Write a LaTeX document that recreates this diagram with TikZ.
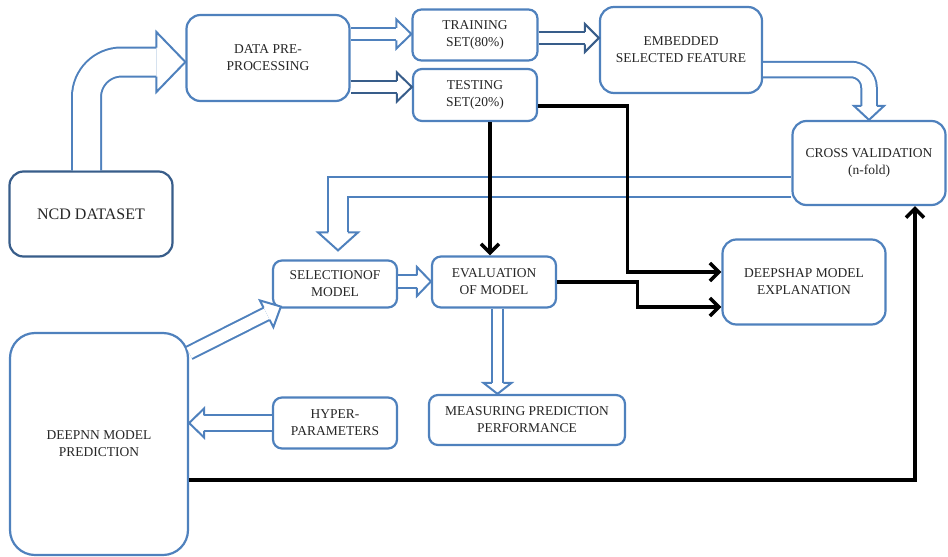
\documentclass[tikz,border=0pt]{standalone}
\usepackage{fontspec}
\setmainfont{Liberation Serif}
\usepackage{tikz}
\usetikzlibrary{arrows.meta}
\usetikzlibrary{calc}
\definecolor{boxblue}{RGB}{79,129,189}
\definecolor{navyblue}{RGB}{56,93,138}

% open head of a hollow arrow: #2 point behind, #3 tip, #4 shaft gap, #5 length, #6 half width
\newcommand{\hollowhead}[6][boxblue]{%
  \coordinate (hb) at ($(#3)!#5!(#2)$);
  \draw[#1, line width=2pt, fill=white]
    ($(hb)!#4/2+1pt!90:(#3)$) -- ($(hb)!#6!90:(#3)$) -- (#3)
    -- ($(hb)!#6!-90:(#3)$) -- ($(hb)!#4/2+1pt!-90:(#3)$);
}
% straight hollow arrow from #2 to #3
\newcommand{\blockarrow}[6][boxblue]{%
  \hollowhead[#1]{#2}{#3}{#4}{#5}{#6}
  \draw[#1, line width=2pt, double=white, double distance=#4] (#2) -- (hb);
}

\begin{document}
\begin{tikzpicture}[x=1pt, y=-1pt,
    box/.style={draw=boxblue, line width=2.2pt, fill=white, rounded corners=9pt,
      align=center, inner sep=0pt, text=black!85,
      font=\fontsize{13.5}{17}\selectfont},
    hollow/.style={boxblue, line width=2pt, double=white},
    flow/.style={line width=3.5pt, -{Straight Barb[length=9pt,width=18pt]}}]
  \useasboundingbox (0,0) rectangle (948,557);

  \node[box, draw=navyblue, rounded corners=14pt, minimum width=163pt, minimum height=85pt,
    font=\fontsize{16}{19}\selectfont] (A) at (91,214) {NCD DATASET};
  \node[box, rounded corners=14pt, minimum width=163pt, minimum height=86pt] (B) at (268,58) {DATA PRE-\\PROCESSING};
  \node[box, minimum width=125pt, minimum height=51pt] (C1) at (475,35) {TRAINING\\SET(80\%)};
  \node[box, minimum width=124pt, minimum height=52pt] (C2) at (475,95) {TESTING\\SET(20\%)};
  \node[box, rounded corners=14pt, minimum width=162pt, minimum height=86pt] (D) at (681,50) {EMBEDDED\\SELECTED FEATURE};
  \node[box, rounded corners=14pt, minimum width=153pt, minimum height=84pt] (E) at (869,163) {CROSS VALIDATION\\(n-fold)};
  \node[box, minimum width=124pt, minimum height=47pt] (F) at (335,284) {SELECTIONOF\\MODEL};
  \node[box, minimum width=124pt, minimum height=51pt] (G) at (494,282) {EVALUATION\\OF MODEL};
  \node[box, rounded corners=14pt, minimum width=163pt, minimum height=85pt] (H) at (804,282) {DEEPSHAP MODEL\\EXPLANATION};
  \node[box, minimum width=196pt, minimum height=50pt] (I) at (527,420) {MEASURING PREDICTION\\PERFORMANCE};
  \node[box, minimum width=124pt, minimum height=51pt] (J) at (335,423) {HYPER-\\PARAMETERS};
  \node[box, rounded corners=25pt, minimum width=178pt, minimum height=222pt] (K) at (99,444) {DEEPNN MODEL\\PREDICTION};

  % hollow arrows
  \coordinate (p1) at ([xshift=-40pt]B.west);
  \coordinate (q1) at ([yshift=-4pt]B.west);
  \coordinate (p1) at ([yshift=-4pt]p1);
  \hollowhead{p1}{q1}{27pt}{29pt}{30pt}
  \draw[hollow, double distance=27pt, rounded corners=35pt] ([xshift=-4.5pt]A.north) |- (hb);

  \coordinate (p2) at ([yshift=24pt]B.east);
  \coordinate (q2) at (p2 -| C1.west);
  \blockarrow{p2}{q2}{10.5pt}{15pt}{14.5pt}
  \coordinate (p3) at ([yshift=-29pt]B.east);
  \coordinate (q3) at (p3 -| C2.west);
  \blockarrow[navyblue]{p3}{q3}{10.5pt}{15pt}{14.5pt}
  \coordinate (p4) at ([yshift=-3pt]C1.east);
  \coordinate (q4) at (p4 -| D.west);
  \blockarrow[navyblue]{p4}{q4}{10.5pt}{14pt}{14pt}

  \coordinate (p5) at ([yshift=30pt]E.north);
  \hollowhead{p5}{E.north}{13.5pt}{14pt}{15pt}
  \draw[hollow, double distance=13.5pt, rounded corners=18pt] ([yshift=-19.5pt]D.east) -| (hb);

  \coordinate (q6) at ([xshift=3pt,yshift=9pt]F.north);
  \coordinate (p6) at ([yshift=30pt]q6);
  \hollowhead{p6}{q6}{17.5pt}{18pt}{20pt}
  \draw[hollow, double distance=17.5pt] ([yshift=-24pt]E.west) -| (hb);

  \coordinate (p7) at ([yshift=2.5pt]F.east);
  \coordinate (q7) at (p7 -| G.west);
  \blockarrow{p7}{q7}{10.5pt}{14pt}{14.5pt}
  \coordinate (p8) at ([yshift=-21pt]K.north east);
  \coordinate (q8) at ([xshift=9pt,yshift=2pt]F.south west);
  \blockarrow{p8}{q8}{11.5pt}{16pt}{15pt}
  \coordinate (q9) at (J.west -| K.east);
  \blockarrow{J.west}{q9}{13.5pt}{15pt}{14.5pt}
  \coordinate (p10) at ([xshift=3.5pt]G.south);
  \coordinate (q10) at (p10 |- I.north);
  \blockarrow{p10}{q10}{9.5pt}{11pt}{14pt}

  % black flow lines
  \draw[flow] ([xshift=15pt]C2.south) -- ([xshift=15pt]C2.south |- G.north);
  \draw[flow] ([yshift=-11pt]C2.east) -| ([xshift=-94pt,yshift=10pt]H.west) -- ([yshift=10pt]H.west);
  \draw[flow] (G.east) -| ([xshift=-84pt,yshift=-25pt]H.west) -- ([yshift=-25pt]H.west);
  \draw[flow] ([yshift=-36pt]K.east) -| ([xshift=46pt]E.south);
\end{tikzpicture}
\end{document}
